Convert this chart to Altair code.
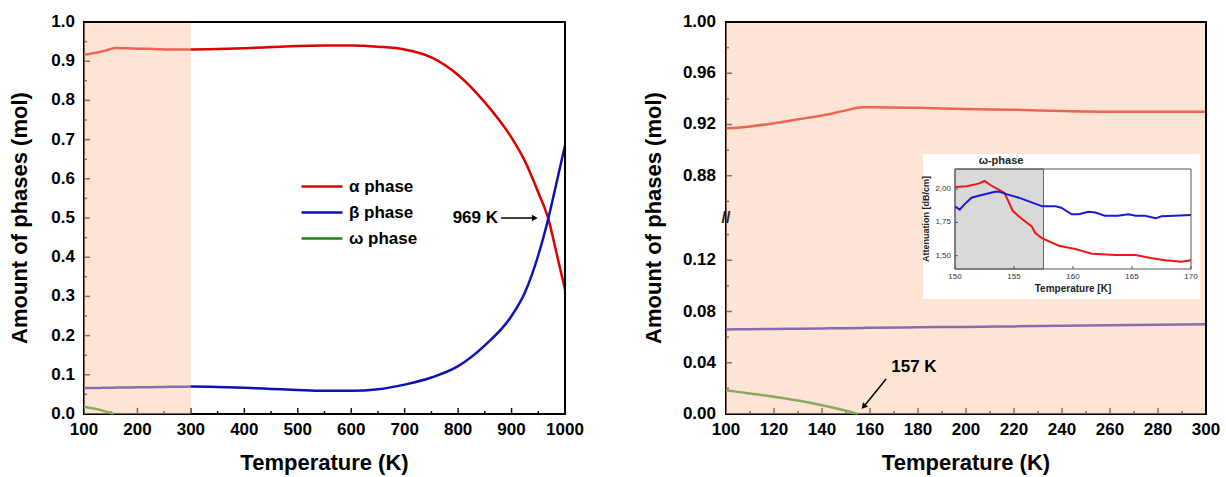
import altair as alt
import pandas as pd

FONT = "Liberation Sans"

# ---------------- data ----------------
T_main = [100, 110, 120, 130, 140, 150, 157, 160, 180, 200, 220, 240, 260, 280, 300,
          350, 400, 450, 500, 550, 600, 650, 700, 750, 800, 850, 900, 925, 950, 969, 985, 1000]
alpha = [0.917, 0.9185, 0.921, 0.924, 0.927, 0.931, 0.9335, 0.9335, 0.933, 0.932, 0.9315, 0.9305, 0.930, 0.930, 0.930,
         0.931, 0.933, 0.936, 0.939, 0.940, 0.940, 0.937, 0.930, 0.910, 0.865, 0.795, 0.705, 0.645, 0.565, 0.497, 0.405, 0.318]
beta = [0.066, 0.0662, 0.0664, 0.0666, 0.0668, 0.067, 0.0672, 0.0673, 0.0677, 0.068, 0.0684, 0.0688, 0.0692, 0.0696, 0.070,
        0.069, 0.067, 0.064, 0.061, 0.059, 0.059, 0.063, 0.075, 0.093, 0.122, 0.175, 0.250, 0.310, 0.405, 0.500, 0.595, 0.685]
T_omega = [100, 110, 120, 130, 140, 150, 155]
omega = [0.0185, 0.016, 0.0135, 0.0105, 0.0068, 0.0025, 0.0]

phases = ["α phase", "β phase", "ω phase"]
colors = ["#dd0000", "#1010b8", "#128a12"]

# inset (attenuation vs temperature)
inset_T_red = [150, 151, 152, 152.5, 153, 153.7, 154.2, 154.9, 155.6, 156.5, 156.8, 157.4, 158.8, 160.2, 161.6,
               163.6, 165.3, 166.7, 167.8, 169.2, 170]
inset_red = [2.015, 2.02, 2.04, 2.06, 2.03, 1.995, 1.97, 1.835, 1.78, 1.72, 1.67, 1.63, 1.575, 1.55, 1.515,
             1.505, 1.505, 1.48, 1.465, 1.455, 1.465]
inset_T_blue = [150, 150.4, 150.8, 151.4, 152, 153.4, 153.7, 154.5, 155.4, 156.5, 157.4, 158.5, 159.0, 159.9, 160.5,
                161.3, 161.9, 162.7, 163.8, 164.7, 165.3, 166.1, 167, 167.5, 168.6, 170]
inset_blue = [1.87, 1.845, 1.885, 1.935, 1.95, 1.98, 1.98, 1.958, 1.935, 1.90, 1.87, 1.87, 1.86, 1.81, 1.81,
              1.83, 1.823, 1.80, 1.80, 1.81, 1.80, 1.80, 1.78, 1.795, 1.80, 1.805]

# axes / ticks
xL_major = [100, 200, 300, 400, 500, 600, 700, 800, 900, 1000]
xL_minor = [150, 250, 350, 450, 550, 650, 750, 850, 950]
yL_major = [0.0, 0.1, 0.2, 0.3, 0.4, 0.5, 0.6, 0.7, 0.8, 0.9, 1.0]
yL_minor = [0.05, 0.15, 0.25, 0.35, 0.45, 0.55, 0.65, 0.75, 0.85, 0.95]
xR_major = [100, 120, 140, 160, 180, 200, 220, 240, 260, 280, 300]
xR_minor = [110, 130, 150, 170, 190, 210, 230, 250, 270, 290]
yR_major = [0.00, 0.04, 0.08, 0.12, 0.88, 0.92, 0.96, 1.00]
yR_minor = [0.02, 0.06, 0.10, 0.14, 0.86, 0.90, 0.94, 0.98]
BREAK_LOW, BREAK_HIGH = 0.153, 0.847   # broken y-axis of right panel
SHIFT = BREAK_HIGH - BREAK_LOW
inset_x_ticks = [150, 155, 160, 165, 170]
inset_y_ticks = [1.50, 1.75, 2.00]
omega_phase_span = [150, 157.5]
shade_left = [100, 300]
x_title = "Temperature (K)"
y_title = "Amount of phases (mol)"

W1, W2, H = 481, 480, 392
SHADE = "#fbc9a9"
TICKC = "#111111"


def disp(v):
    return v if v <= 0.5 else v - SHIFT


rows = []
for t, a, b in zip(T_main, alpha, beta):
    rows.append({"T": t, "value": a, "phase": phases[0]})
    rows.append({"T": t, "value": b, "phase": phases[1]})
for t, w in zip(T_omega, omega):
    rows.append({"T": t, "value": w, "phase": phases[2]})
df = pd.DataFrame(rows)

color_scale = alt.Scale(domain=phases, range=colors)


def X(field, scale):
    return alt.X(field, scale=scale, axis=None)


def Y(field, scale):
    return alt.Y(field, scale=scale, axis=None)


def bars(d, sx, sy, color):
    """Thin filled rectangles (ticks / frame sides) drawn through the scales."""
    return alt.Chart(pd.DataFrame(d)).mark_rect(color=color, opacity=1).encode(
        x=X("xa:Q", sx), x2="xb:Q", y=Y("ya:Q", sy), y2="yb:Q")


def tick_layers(sx, sy, xdom, ydom, w, h, xmaj, xmin, ymaj, ymin, color=TICKC, half=0.75, lens=(6, 3)):
    px_y = (ydom[1] - ydom[0]) / h
    px_x = (xdom[1] - xdom[0]) / w
    out = []
    for vals, ln in ((xmaj, lens[0]), (xmin, lens[1])):
        if vals:
            out.append(bars({"xa": [v - half * px_x for v in vals], "xb": [v + half * px_x for v in vals],
                             "ya": ydom[0], "yb": ydom[0] + ln * px_y}, sx, sy, color))
    for vals, ln in ((ymaj, lens[0]), (ymin, lens[1])):
        if vals:
            out.append(bars({"ya": [v - half * px_y for v in vals], "yb": [v + half * px_y for v in vals],
                             "xa": xdom[0], "xb": xdom[0] + ln * px_x}, sx, sy, color))
    return out


def frame(sx, sy, xdom, ydom, w, h, sides, color="#000", half=1.0):
    px_y = (ydom[1] - ydom[0]) / h
    px_x = (xdom[1] - xdom[0]) / w
    x0, x1, y0, y1 = xdom[0], xdom[1], ydom[0], ydom[1]
    d = {"xa": [], "xb": [], "ya": [], "yb": []}

    def add(xa, xb, ya, yb):
        d["xa"].append(xa); d["xb"].append(xb); d["ya"].append(ya); d["yb"].append(yb)

    if "l" in sides:
        add(x0 - half * px_x, x0 + half * px_x, y0 - half * px_y, y1 + half * px_y)
    if "b" in sides:
        add(x0 - half * px_x, x1 + half * px_x, y0 - half * px_y, y0 + half * px_y)
    if "t" in sides:
        add(x0 - half * px_x, x1 + half * px_x, y1 - half * px_y, y1 + half * px_y)
    if "r" in sides:
        add(x1 - half * px_x, x1 + half * px_x, y0 - half * px_y, y1 + half * px_y)
    return [bars(d, sx, sy, color)]


def label_layers(sx, sy, xvals, xlabs, yvals, ylabs, w, h, ypad, ytitle_x):
    txt = dict(font=FONT, fontSize=17, fontWeight="bold", color="#000")
    xl = alt.Chart(pd.DataFrame({"t": xvals, "lab": xlabs})).mark_text(
        align="center", baseline="top", **txt).encode(x=X("t:Q", sx), y=alt.value(h + 8), text="lab:N")
    yl = alt.Chart(pd.DataFrame({"t": yvals, "lab": ylabs})).mark_text(
        align="right", baseline="middle", **txt).encode(y=Y("t:Q", sy), x=alt.value(-ypad), text="lab:N")
    ttl = dict(font=FONT, fontSize=22, fontWeight="bold", color="#000")
    xt = alt.Chart(pd.DataFrame({"s": [x_title]})).mark_text(
        align="center", baseline="alphabetic", **ttl).encode(x=alt.value(w / 2), y=alt.value(h + 56), text="s:N")
    yt = alt.Chart(pd.DataFrame({"s": [y_title]})).mark_text(
        align="center", baseline="alphabetic", angle=270, **ttl).encode(
        x=alt.value(ytitle_x), y=alt.value(h / 2), text="s:N")
    return [xl, yl, xt, yt]


# ---------------- left panel ----------------
xL_dom, yL_dom = [100, 1000], [0, 1]
xL = alt.Scale(domain=xL_dom, nice=False, zero=False)
yL = alt.Scale(domain=yL_dom, nice=False, zero=False)

lines_L = alt.Chart(df).mark_line(strokeWidth=2.5, interpolate="monotone").encode(
    x=X("T:Q", xL),
    y=Y("value:Q", yL),
    color=alt.Color("phase:N", scale=color_scale, sort=phases,
                    legend=alt.Legend(orient="none", legendX=216, legendY=156, title=None, symbolType="stroke",
                                      symbolSize=1681, symbolStrokeWidth=2.5, clipHeight=17,
                                      labelFont=FONT, labelFontSize=17, labelFontWeight="bold",
                                      labelColor="#000", labelOffset=5, rowPadding=8, padding=0)),
    order=alt.Order("T:Q"),
)

shade_L = alt.Chart(pd.DataFrame({"a": [shade_left[0]], "b": [shade_left[1]]})).mark_rect(
    color=SHADE, opacity=0.5).encode(x=X("a:Q", xL), x2="b:Q", y=alt.value(0), y2=alt.value(H))

ann_L = pd.DataFrame({"label": ["969 K"], "tx": [874.7], "x0": [880.3], "x1": [940.0], "xh": [943.5], "y": [0.5]})
ann_text_L = alt.Chart(ann_L).mark_text(align="right", baseline="middle", font=FONT, fontSize=17,
                                        fontWeight="bold", color="#000").encode(
    x=X("tx:Q", xL), y=Y("y:Q", yL), text="label:N")
ann_line_L = alt.Chart(ann_L).mark_rule(color="#000", strokeWidth=1.5).encode(
    x=X("x0:Q", xL), x2="x1:Q", y=Y("y:Q", yL))
ann_head_L = alt.Chart(ann_L).mark_point(shape="triangle-right", filled=True, size=45, color="#000",
                                         opacity=1).encode(x=X("xh:Q", xL), y=Y("y:Q", yL))

left = alt.layer(
    *tick_layers(xL, yL, xL_dom, yL_dom, W1, H, xL_major, xL_minor, yL_major, yL_minor),
    *frame(xL, yL, xL_dom, yL_dom, W1, H, "lb"),
    lines_L, shade_L,
    *frame(xL, yL, xL_dom, yL_dom, W1, H, "tr"),
    ann_line_L, ann_head_L, ann_text_L,
    *label_layers(xL, yL, xL_major, [str(v) for v in xL_major], yL_major, [f"{v:.1f}" for v in yL_major],
                  W1, H, 9, -57),
).properties(width=W1, height=H)

# ---------------- right panel ----------------
xR_dom, yR_dom = [100, 300], [0, 2 * BREAK_LOW]
xR = alt.Scale(domain=xR_dom, nice=False, zero=False)
yR = alt.Scale(domain=yR_dom, nice=False, zero=False)
yR_major_d = [round(disp(v), 4) for v in yR_major]
yR_minor_d = [round(disp(v), 4) for v in yR_minor]

lines_R = alt.Chart(df).transform_filter("datum.T <= 300").transform_calculate(
    disp=f"datum.value > 0.5 ? datum.value - {SHIFT} : datum.value"
).mark_line(strokeWidth=2.5, interpolate="monotone").encode(
    x=X("T:Q", xR),
    y=Y("disp:Q", yR),
    color=alt.Color("phase:N", scale=color_scale, legend=None),
    order=alt.Order("T:Q"),
)

shade_R = alt.Chart(pd.DataFrame({"a": [100], "b": [300]})).mark_rect(color=SHADE, opacity=0.5).encode(
    x=X("a:Q", xR), x2="b:Q", y=alt.value(0), y2=alt.value(H))

brk = pd.DataFrame({"x": [100], "y": [BREAK_LOW], "s": ["//"]})
break_mark = alt.Chart(brk).mark_text(font=FONT, fontSize=16, fontWeight="bold", color="#222").encode(
    x=X("x:Q", xR), y=Y("y:Q", yR), text="s:N")

ann_R = pd.DataFrame({"label": ["157 K"], "tx": [178.3], "ty": [0.0367],
                      "x0": [166.7], "y0": [0.0273], "x1": [157.6], "y1": [0.0063]})
ann_text_R = alt.Chart(ann_R).mark_text(align="center", baseline="middle", font=FONT, fontSize=17,
                                        fontWeight="bold", color="#000").encode(
    x=X("tx:Q", xR), y=Y("ty:Q", yR), text="label:N")
ann_line_R = alt.Chart(ann_R).mark_rule(color="#000", strokeWidth=1.5).encode(
    x=X("x0:Q", xR), y=Y("y0:Q", yR), x2="x1:Q", y2="y1:Q")
ann_head_R = alt.Chart(ann_R).mark_point(shape="triangle", filled=True, size=45, color="#000", opacity=1,
                                         angle=221).encode(x=X("x1:Q", xR), y=Y("y1:Q", yR))

main_R = alt.layer(
    *tick_layers(xR, yR, xR_dom, yR_dom, W2, H, xR_major, xR_minor, yR_major_d, yR_minor_d),
    *frame(xR, yR, xR_dom, yR_dom, W2, H, "lb"),
    lines_R, shade_R,
    *frame(xR, yR, xR_dom, yR_dom, W2, H, "tr"),
    break_mark, ann_line_R, ann_head_R, ann_text_R,
    *label_layers(xR, yR, xR_major, [str(v) for v in xR_major], yR_major_d, [f"{v:.2f}" for v in yR_major],
                  W2, H, 10, -65),
)

# ---------------- inset ----------------
xI_dom, yI_dom = [150, 170], [1.40, 2.15]
xI = alt.Scale(domain=xI_dom, range=[229, 465], nice=False, zero=False)
yI = alt.Scale(domain=yI_dom, range=[247, 147], nice=False, zero=False)
WI, HI = 236, 100

box = pd.DataFrame({"x": [147.29], "x2": [170.76], "y": [1.175], "y2": [2.2625]})
inset_bg = alt.Chart(box).mark_rect(color="#ffffff").encode(
    x=X("x:Q", xI), x2="x2:Q", y=Y("y:Q", yI), y2="y2:Q")
span = pd.DataFrame({"a": [omega_phase_span[0]], "b": [omega_phase_span[1]], "lo": [1.40], "hi": [2.15]})
inset_gray = alt.Chart(span).mark_rect(color="#d9d9d9", stroke="#666", strokeWidth=1).encode(
    x=X("a:Q", xI), x2="b:Q", y=Y("lo:Q", yI), y2="hi:Q")
fr = pd.DataFrame({"a": [150], "b": [170], "lo": [1.40], "hi": [2.15]})
inset_frame = alt.Chart(fr).mark_rect(fill=None, stroke="#555", strokeWidth=1).encode(
    x=X("a:Q", xI), x2="b:Q", y=Y("lo:Q", yI), y2="hi:Q")

inset_df = pd.concat([
    pd.DataFrame({"T": inset_T_red, "att": inset_red, "s": "red"}),
    pd.DataFrame({"T": inset_T_blue, "att": inset_blue, "s": "blue"}),
])
inset_lines = alt.Chart(inset_df).mark_line(strokeWidth=2).encode(
    x=X("T:Q", xI),
    y=Y("att:Q", yI),
    color=alt.Color("s:N", scale=alt.Scale(domain=["red", "blue"], range=["#ee1515", "#1a1ad2"]), legend=None),
    order=alt.Order("T:Q"),
)
omega_lbl = pd.DataFrame({"x": [153.9], "y": [2.21], "s": ["ω-phase"]})
inset_label = alt.Chart(omega_lbl).mark_text(font=FONT, fontSize=11, fontWeight="bold", color="#222").encode(
    x=X("x:Q", xI), y=Y("y:Q", yI), text="s:N")

inset_ticks = tick_layers(xI, yI, xI_dom, yI_dom, WI, HI, inset_x_ticks, [], inset_y_ticks, [],
                          color="#555", half=0.5, lens=(3, 2))
ixt = pd.DataFrame({"t": inset_x_ticks, "lab": [str(v) for v in inset_x_ticks], "lo": 1.40})
iyt = pd.DataFrame({"t": inset_y_ticks, "lab": [f"{v:.2f}".replace(".", ",") for v in inset_y_ticks], "x": 150})
inset_xlab = alt.Chart(ixt).mark_text(font=FONT, fontSize=8, color="#333", baseline="top", dy=4).encode(
    x=X("t:Q", xI), y=Y("lo:Q", yI), text="lab:N")
inset_ylab = alt.Chart(iyt).mark_text(font=FONT, fontSize=8, color="#333", align="right", baseline="middle",
                                      dx=-4).encode(y=Y("t:Q", yI), x=X("x:Q", xI), text="lab:N")
ititles = pd.DataFrame({"x": [160, 147.55], "y": [1.40, 1.775], "s": ["Temperature [K]", "Attenuation [dB/cm]"]})
inset_xtitle = alt.Chart(ititles.iloc[[0]]).mark_text(font=FONT, fontSize=10, fontWeight="bold", color="#222",
                                                      baseline="top", dy=15).encode(
    x=X("x:Q", xI), y=Y("y:Q", yI), text="s:N")
inset_ytitle = alt.Chart(ititles.iloc[[1]]).mark_text(font=FONT, fontSize=9, fontWeight="bold", color="#222",
                                                      baseline="middle", angle=270).encode(
    x=X("x:Q", xI), y=Y("y:Q", yI), text="s:N")

inset = alt.layer(inset_bg, inset_gray, inset_lines, inset_frame, *inset_ticks,
                  inset_label, inset_xlab, inset_ylab, inset_xtitle, inset_ytitle)

right = alt.layer(main_R, inset).resolve_scale(x="independent", y="independent", color="independent") \
    .properties(width=W2, height=H)

chart = alt.hconcat(left, right, spacing=161, bounds="flush").resolve_scale(color="independent").properties(
    padding={"left": 8, "top": 12, "right": 0, "bottom": 0}
).configure_view(stroke=None).configure(background="#ffffff")

chart.save("out.html", embed_options={"renderer": "svg", "actions": False})
